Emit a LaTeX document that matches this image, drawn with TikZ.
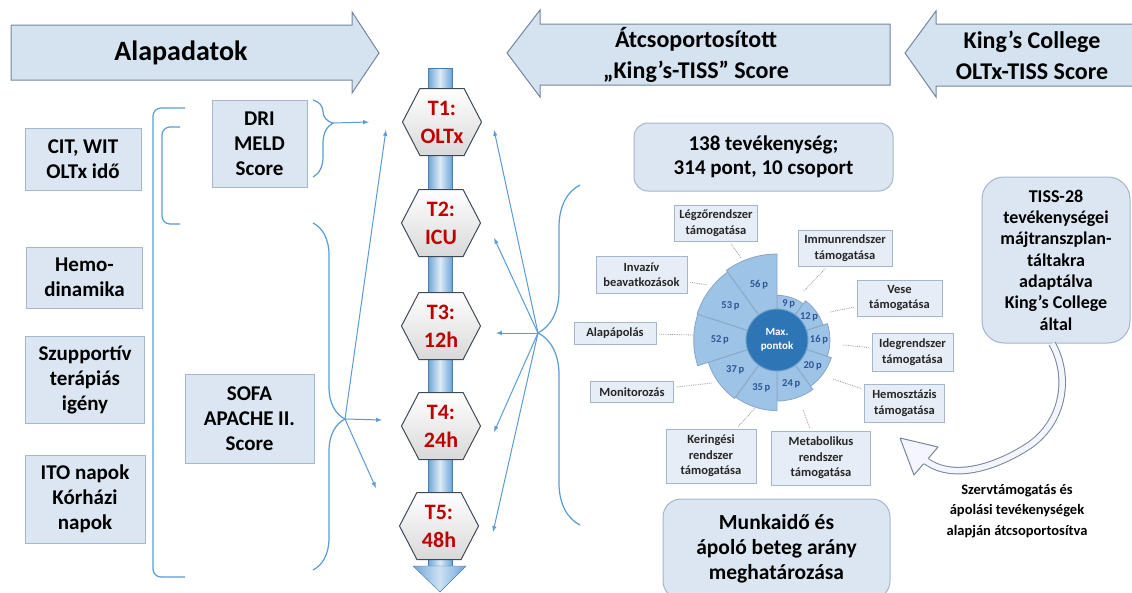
\documentclass[tikz,border=0pt]{standalone}
\usepackage{fontspec}
\setmainfont{Carlito}
\usepackage{tikz}
\usetikzlibrary{positioning,calc,shapes.symbols,decorations.pathreplacing}

\definecolor{hdrfill}{HTML}{D5E3F1}
\definecolor{hdrline}{HTML}{76869A}
\definecolor{boxfill}{HTML}{DCE6F2}
\definecolor{boxline}{HTML}{A5B6CB}
\definecolor{linkblue}{HTML}{5B9BD5}
\definecolor{segfill}{HTML}{9DC3E6}
\definecolor{segline}{HTML}{8AA6C4}
\definecolor{ctrblue}{HTML}{2E75B6}
\definecolor{segtext}{HTML}{2F5597}
\definecolor{hexline}{HTML}{3F4A59}
\definecolor{hexred}{HTML}{C00000}

\begin{document}
\begin{tikzpicture}[x=1pt, y=1pt,
    hdr/.style={fill=hdrfill, draw=hdrline, line width=1pt},
    hdrtext/.style={align=center, font=\bfseries\fontsize{24}{31}\selectfont},
    infobox/.style={fill=boxfill, draw=boxline, line width=1pt, align=center, inner sep=0pt,
        font=\bfseries\fontsize{21}{25}\selectfont},
    timebox/.style={signal, signal to=east and west, signal pointer angle=125,
        draw=hexline, line width=1pt, top color=white, bottom color=black!15,
        text=hexred, align=center, inner sep=0pt, minimum width=79pt, minimum height=67pt,
        font=\bfseries\fontsize{22}{28}\selectfont},
    roundbox/.style={fill=boxfill, draw=boxline, line width=1pt, rounded corners=14pt,
        align=center, inner sep=0pt},
    catbox/.style={fill=boxfill!70!white, draw=boxline, line width=0.8pt, align=center,
        inner sep=0pt, text=black!85, font=\bfseries\fontsize{12.5}{15.5}\selectfont},
    link/.style={draw=linkblue, line width=1pt, ->, >=latex},
    bracket/.style={draw=linkblue, line width=1.2pt},
    leader/.style={draw=black!40, densely dotted, line width=0.8pt, shorten <=3pt}
  ]
    \useasboundingbox[fill=white] (0,0) rectangle (1132,-592);

    % Header arrows
    \filldraw[hdr] (11,-25) -- (352,-25) -- (352,-12) -- (379,-53) -- (352,-93) -- (352,-80) -- (11,-80) -- cycle;
    \filldraw[hdr] (890,-24) -- (540,-24) -- (540,-10) -- (507,-53) -- (540,-97) -- (540,-85) -- (890,-85) -- cycle;
    \filldraw[hdr] (1140,-24) -- (936,-24) -- (936,-11) -- (905,-53) -- (936,-97) -- (936,-86) -- (1140,-86) -- cycle;
    \node[hdrtext, font=\bfseries\fontsize{28}{31}\selectfont] (basic) at (181,-53) {Alapadatok};
    \node[hdrtext] (regroup) at (696,-55) {Átcsoportosított\\„King’s-TISS” Score};
    \node[hdrtext] (kings) at (1032,-55) {King’s College\\OLTx-TISS Score};

    % Baseline data
    \node[infobox, minimum width=116pt, minimum height=62pt] (cit) at (83,-159) {CIT, WIT\\OLTx idő};
    \node[infobox, minimum width=116pt, minimum height=61pt] (hemo) at (84.5,-277.5) {Hemo-\\dinamika};
    \node[infobox, minimum width=119pt, minimum height=87pt] (supp) at (85,-380) {Szupportív\\terápiás\\igény};
    \node[infobox, minimum width=120pt, minimum height=88pt] (ito) at (85,-499) {ITO napok\\Kórházi\\napok};
    \node[infobox, minimum width=95pt, minimum height=87pt] (dri) at (259.5,-143.5) {DRI\\MELD\\Score};
    \node[infobox, minimum width=129pt, minimum height=89pt] (sofa) at (249.5,-418.5) {SOFA\\APACHE II.\\Score};

    % Brackets and braces
    \draw[bracket, rounded corners=8pt] (185,-108) -- (153,-108) -- (153,-577) -- (185,-577);
    \draw[bracket, rounded corners=8pt] (180,-127) -- (162,-127) -- (162,-224) -- (180,-224);
    \draw[bracket, decorate, decoration={brace, amplitude=20pt, aspect=0.3}] (313,-100) -- (313,-177);
    \draw[bracket, decorate, decoration={brace, amplitude=32pt, aspect=0.565}] (313,-223) -- (313,-570);
    \draw[bracket, decorate, decoration={brace, amplitude=42pt, aspect=0.565}] (580,-525) -- (580,-185);
    \coordinate (dritip) at (333,-123);
    \coordinate (sofatip) at (345,-419);
    \coordinate (tisstip) at (538,-333);

    % Time line
    \shadedraw[draw=linkblue!80!black, left color=linkblue!90, right color=linkblue!90, middle color=linkblue!20]
        (428,-68) rectangle (452,-566);
    \shadedraw[draw=linkblue!80!black, left color=linkblue!90, right color=linkblue!90, middle color=linkblue!30]
        (413,-566) -- (466,-566) -- (440,-592) -- cycle;
    \node[timebox] (t1) at (442,-122) {T1:\\OLTx};
    \node[timebox] (t2) at (441,-223) {T2:\\ICU};
    \node[timebox] (t3) at (441,-326) {T3:\\12h};
    \node[timebox] (t4) at (441,-426) {T4:\\24h};
    \node[timebox] (t5) at (439,-526) {T5:\\48h};

    % Links to the time points
    \draw[link] (dritip) -- ([xshift=-33pt]t1.west);
    \draw[link] (sofatip) -- ([xshift=-16pt,yshift=-8pt]t1.west);
    \draw[link] (sofatip) -- ([xshift=-19pt,yshift=6pt]t4.west);
    \draw[link] (sofatip) -- ([xshift=-25pt,yshift=-62pt]t4.west);
    \draw[link] (tisstip) -- ([xshift=12pt,yshift=-8pt]t1.east);
    \draw[link] (tisstip) -- ([xshift=13pt,yshift=-15pt]t2.east);
    \draw[link] (tisstip) -- ([xshift=15pt,yshift=-7pt]t3.east);
    \draw[link] (tisstip) -- ([xshift=13pt,yshift=-6pt]t4.east);
    \draw[link] (tisstip) -- ([xshift=14pt,yshift=-6pt]t5.east);

    % Score boxes
    \node[roundbox, minimum width=259pt, minimum height=68pt, font=\bfseries\fontsize{21}{24}\selectfont]
        (acts) at (763.5,-157) {138 tevékenység;\\314 pont, 10 csoport};
    \node[roundbox, rounded corners=22pt, minimum width=148pt, minimum height=166pt,
        font=\bfseries\fontsize{18}{21.3}\selectfont]
        (tiss) at (1056,-260) {TISS-28\\tevékenységei\\májtranszplan-\\táltakra\\adaptálva\\King’s College\\által};
    \node[roundbox, rounded corners=18pt, minimum width=227pt, minimum height=100pt,
        font=\bfseries\fontsize{21.5}{25}\selectfont]
        (work) at (776.5,-549) {Munkaidő és\\ápoló beteg arány\\meghatározása};

    % Max points chart
    \coordinate (ctr) at (777,-340);
    \foreach \v/\a in {9/90,12/54,16/18,20/-18,24/-54,35/-90,37/-126,52/-162,53/-198,56/-234}{
        \pgfmathsetmacro\r{sqrt(961+115*\v)}
        \pgfmathsetmacro\m{(31+\r)/2}
        \filldraw[fill=segfill, draw=segline, line width=0.8pt]
            (ctr) -- ++(\a:\r pt) arc[start angle=\a, end angle=\a-36, radius=\r pt] -- cycle;
        \node[text=segtext, font=\bfseries\fontsize{10.5}{12}\selectfont] (lbl\v) at ($(ctr)+(\a-18:\m pt)$) {\v\,p};
    }
    \node[circle, fill=ctrblue, draw=ctrblue!70!white, line width=1pt, minimum size=62pt, inner sep=0pt,
        text=white, align=center, font=\bfseries\fontsize{11}{14}\selectfont] (maxp) at (ctr) {Max.\\pontok};

    % Activity groups
    \node[catbox, minimum width=83pt, minimum height=36pt] (legzo) at (716,-223) {Légzőrendszer\\támogatása};
    \node[catbox, minimum width=94pt, minimum height=36pt] (immun) at (845,-248) {Immunrendszer\\támogatása};
    \node[catbox, minimum width=91pt, minimum height=37pt] (invaziv) at (641.5,-274.5) {Invazív\\beavatkozások};
    \node[catbox, minimum width=85pt, minimum height=36pt] (vese) at (899.5,-298) {Vese\\támogatása};
    \node[catbox, minimum width=82pt, minimum height=22pt] (alap) at (615,-333) {Alapápolás};
    \node[catbox, minimum width=81pt, minimum height=38pt] (ideg) at (912.5,-352) {Idegrendszer\\támogatása};
    \node[catbox, minimum width=83pt, minimum height=21pt] (monitor) at (632,-392) {Monitorozás};
    \node[catbox, minimum width=80pt, minimum height=38pt] (hemoszt) at (904.5,-403) {Hemosztázis\\támogatása};
    \node[catbox, minimum width=90pt, minimum height=54pt] (kering) at (711,-456) {Keringési\\rendszer\\támogatása};
    \node[catbox, minimum width=99pt, minimum height=54pt] (metab) at (821,-458) {Metabolikus\\rendszer\\támogatása};

    \draw[leader] (legzo) -- ($(ctr)+(113.7:89.6pt)$);
    \draw[leader] (immun) -- ($(ctr)+(61.6:54.6pt)$);
    \draw[leader] (invaziv) -- ($(ctr)+(141.4:88.2pt)$);
    \draw[leader] (vese) -- ($(ctr)+(27.8:60pt)$);
    \draw[leader] (alap) -- ($(ctr)+(176.6:84.5pt)$);
    \draw[leader] (ideg) -- ($(ctr)+(-4.3:66.2pt)$);
    \draw[leader] (monitor) -- ($(ctr)+(213.5:77.9pt)$);
    \draw[leader] (hemoszt) -- ($(ctr)+(-34.9:68.2pt)$);
    \draw[leader] (kering) -- ($(ctr)+(252:72pt)$);
    \draw[leader] (metab) -- ($(ctr)+(290.4:74.7pt)$);

    % Regrouping arrow
    \coordinate (bend) at (926,-461);
    \coordinate (headtip) at (900,-438);
    \draw[draw=hdrline, double=blue!4!white, double distance=5.5pt, line width=1pt]
        ([xshift=-4pt]tiss.south) .. controls (1070,-375) and (1065,-420) .. (1030,-445)
        .. controls (1000,-465) and (955,-482) .. (bend);
    \fill[blue!4!white] (headtip) -- (938,-447) -- (914,-475) -- cycle;
    \draw[draw=hdrline, line width=1pt, line join=round]
        (928.5,-458.2) -- (938,-447) -- (headtip) -- (914,-475) -- (923.5,-463.8);
    \node[align=center, font=\bfseries\fontsize{14.5}{20.5}\selectfont] (regrouptext) at (1017,-511)
        {Szervtámogatás és\\ápolási tevékenységek\\alapján átcsoportosítva};
\end{tikzpicture}
\end{document}
